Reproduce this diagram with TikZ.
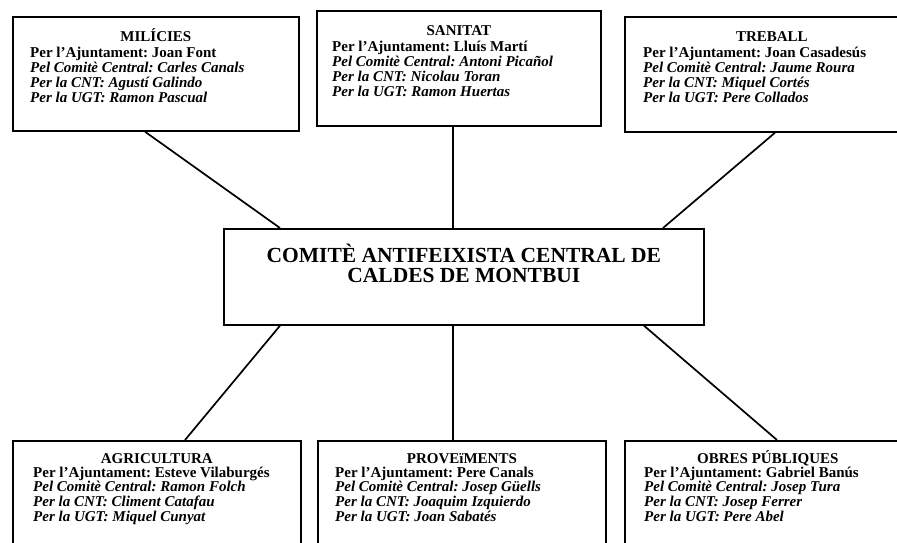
\documentclass[tikz,border=0pt]{standalone}
\usepackage{fontspec}
\setmainfont{Liberation Serif}
\frenchspacing

% the four members of every commission
\newcommand\memberlines[4]{%
  \begin{tabular}[t]{@{}l@{}}
    Per l’Ajuntament: #1\\
    \textit{Pel Comitè Central: #2}\\
    \textit{Per la CNT: #3}\\
    \textit{Per la UGT: #4}
  \end{tabular}}

\tikzset{
  deptbox/.style={draw, line width=1.7pt, anchor=north west, inner sep=0pt},
  depttitle/.style={anchor=base, inner sep=0pt, font=\fontsize{15}{14.5}\selectfont\bfseries},
  deptbody/.style={anchor=base west, inner sep=0pt, font=\fontsize{15}{14.5}\selectfont\bfseries},
  link/.style={line width=1.7pt}
}

\begin{document}
\begin{tikzpicture}[x=1pt, y=-1pt]
        \useasboundingbox (0,0) rectangle (897,543);
        \clip (0,0) rectangle (897,543);
        % central committee
        \node[deptbox, minimum width=480pt, minimum height=96pt] (central) at (223,228) {};
        \node[anchor=base, inner sep=0pt, font=\fontsize{21.5}{20}\selectfont\bfseries] (centraltitle)
            at ([yshift=-34pt]central.north)
            {\begin{tabular}[t]{@{}c@{}}COMITÈ ANTIFEIXISTA CENTRAL DE\\CALDES DE MONTBUI\end{tabular}};
        % top row
        \node[deptbox, minimum width=286pt, minimum height=114pt] (milicies) at (12,16) {};
        \node[depttitle] (miliciestitle) at ([yshift=-26pt]milicies.north) {MILÍCIES};
        \node[deptbody] (miliciesbody) at ([xshift=18pt,yshift=-42pt]milicies.north west)
            {\memberlines{Joan Font}{Carles Canals}{Agustí Galindo}{Ramon Pascual}};
        \node[deptbox, minimum width=284pt, minimum height=115pt] (sanitat) at (316,10) {};
        \node[depttitle] (sanitattitle) at ([yshift=-26pt]sanitat.north) {SANITAT};
        \node[deptbody] (sanitatbody) at ([xshift=16pt,yshift=-42pt]sanitat.north west)
            {\memberlines{Lluís Martí}{Antoni Picañol}{Nicolau Toran}{Ramon Huertas}};
        \node[deptbox, minimum width=294pt, minimum height=115pt] (treball) at (624,16) {};
        \node[depttitle] (treballtitle) at ([yshift=-26pt]treball.north) {TREBALL};
        \node[deptbody] (treballbody) at ([xshift=19pt,yshift=-42pt]treball.north west)
            {\memberlines{Joan Casadesús}{Jaume Roura}{Miquel Cortés}{Pere Collados}};
        % bottom row, cut off by the page
        \node[deptbox, minimum width=288pt, minimum height=130pt] (agricultura) at (12,440) {};
        \node[depttitle] (agriculturatitle) at ([yshift=-23pt]agricultura.north) {AGRICULTURA};
        \node[deptbody] (agriculturabody) at ([xshift=21pt,yshift=-37pt]agricultura.north west)
            {\memberlines{Esteve Vilaburgés}{Ramon Folch}{Climent Catafau}{Miquel Cunyat}};
        \node[deptbox, minimum width=288pt, minimum height=130pt] (proveiments) at (317,440) {};
        \node[depttitle] (proveimentstitle) at ([yshift=-23pt]proveiments.north) {PROVEïMENTS};
        \node[deptbody] (proveimentsbody) at ([xshift=18pt,yshift=-37pt]proveiments.north west)
            {\memberlines{Pere Canals}{Josep Güells}{Joaquim Izquierdo}{Joan Sabatés}};
        \node[deptbox, minimum width=286pt, minimum height=130pt] (obres) at (624,440) {};
        \node[depttitle] (obrestitle) at ([yshift=-23pt]obres.north) {OBRES PÚBLIQUES};
        \node[deptbody] (obresbody) at ([xshift=20pt,yshift=-37pt]obres.north west)
            {\memberlines{Gabriel Banús}{Josep Tura}{Josep Ferrer}{Pere Abel}};
        % links to the central committee
        \foreach \dept/\dx/\cx in {milicies/133/57, sanitat/137/230, treball/151/440} {
            \draw[link] ([xshift=\dx pt]\dept.south west) -- ([xshift=\cx pt]central.north west);
        }
        \foreach \dept/\dx/\cx in {agricultura/173/57, proveiments/136/230, obres/153/421} {
            \draw[link] ([xshift=\dx pt]\dept.north west) -- ([xshift=\cx pt]central.south west);
        }
\end{tikzpicture}
\end{document}
